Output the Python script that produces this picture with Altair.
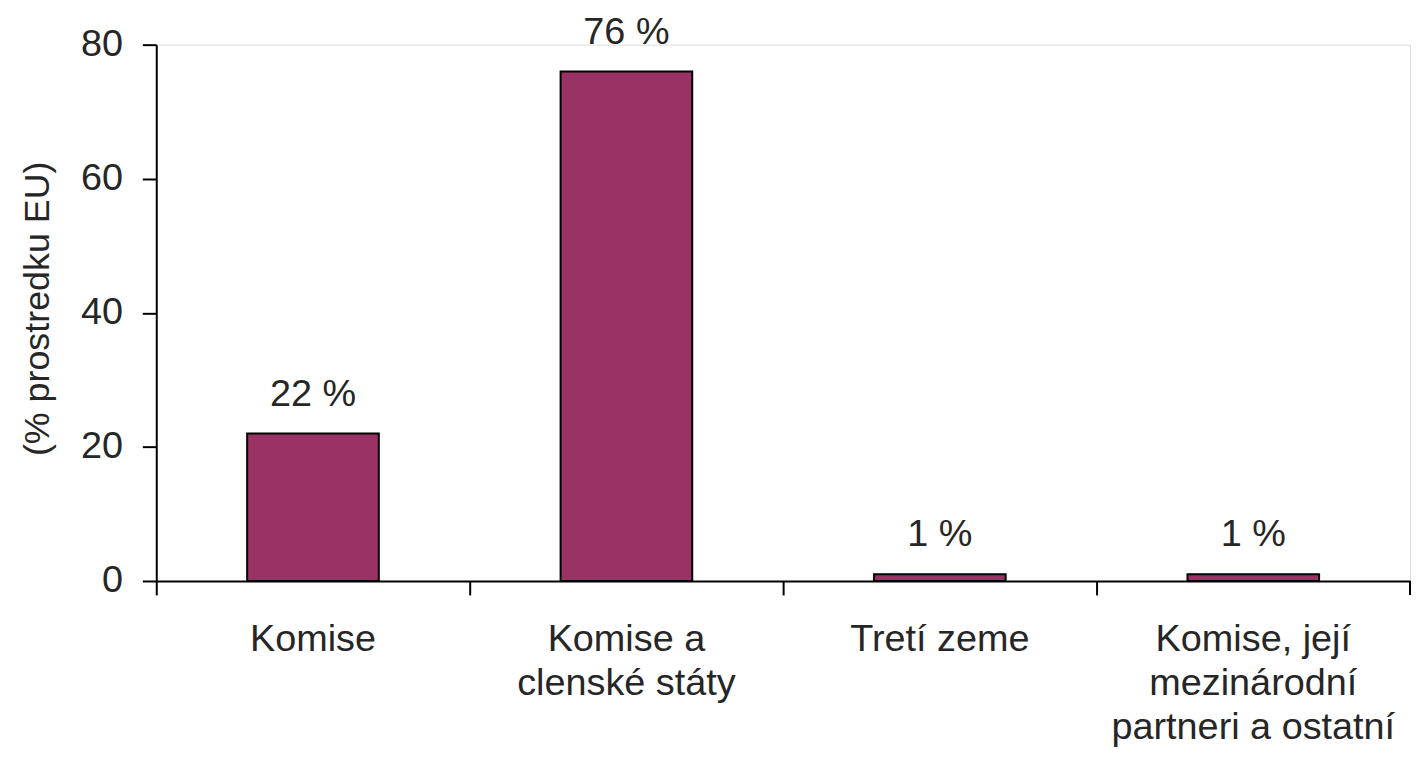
import altair as alt
import pandas as pd

categories = ["Komise", "Komise a\nclenské státy", "Tretí zeme", "Komise, její\nmezinárodní\npartneri a ostatní"]
values = [22, 76, 1, 1]
labels = ["22 %", "76 %", "1 %", "1 %"]

df = pd.DataFrame({"cat": categories, "val": values, "lab": labels})

FONT = "Liberation Sans"
FS = 38
TXT = "#262626"
W, H = 1260, 539

x = alt.X("cat:N", sort=categories, title=None,
          scale=alt.Scale(paddingInner=0, paddingOuter=0),
          axis=alt.Axis(labelAngle=0, bandPosition=0, tickSize=14, tickWidth=2,
                        domainWidth=2, domainColor="black", tickColor="black",
                        labelPadding=26, labelFontSize=FS, labelFont=FONT,
                        labelColor=TXT, labelLineHeight=44, labelLimit=0,
                        labelExpr="split(datum.label, '\\n')", labelBaseline="top"))
y = alt.Y("val:Q", title="(% prostredku EU)",
          scale=alt.Scale(domain=[0, 80], nice=False),
          axis=alt.Axis(values=[0, 20, 40, 60, 80], tickSize=14, tickWidth=2,
                        domainWidth=2, domainColor="black", tickColor="black",
                        labelPadding=20, labelFontSize=FS, labelFont=FONT,
                        labelColor=TXT, grid=False,
                        titleFontSize=36, titleFont=FONT, titleFontWeight="normal",
                        titleColor=TXT, titleX=-119, titleY=265,
                        titleAngle=-90, titleAlign="center", titleBaseline="middle"))

bars = alt.Chart(df).mark_bar(color="#993366", stroke="black", strokeWidth=2,
                              width=alt.RelativeBandSize(0.42)).encode(x=x, y=y)
text = alt.Chart(df).mark_text(baseline="bottom", dy=-20, fontSize=FS, font=FONT,
                               color=TXT).encode(x=x, y=y, text="lab:N")
endtick = alt.Chart(df).mark_rule(color="black", strokeWidth=2).encode(
    x=alt.value(W), y=alt.value(H), y2=alt.value(H + 14))

chart = alt.layer(bars, text, endtick).properties(
    width=W, height=H, padding={"left": 11, "top": 3, "right": 0, "bottom": 0}
).configure_view(stroke=None).configure(background="white")

chart.save("out.html", embed_options={"renderer": "svg", "actions": False})
